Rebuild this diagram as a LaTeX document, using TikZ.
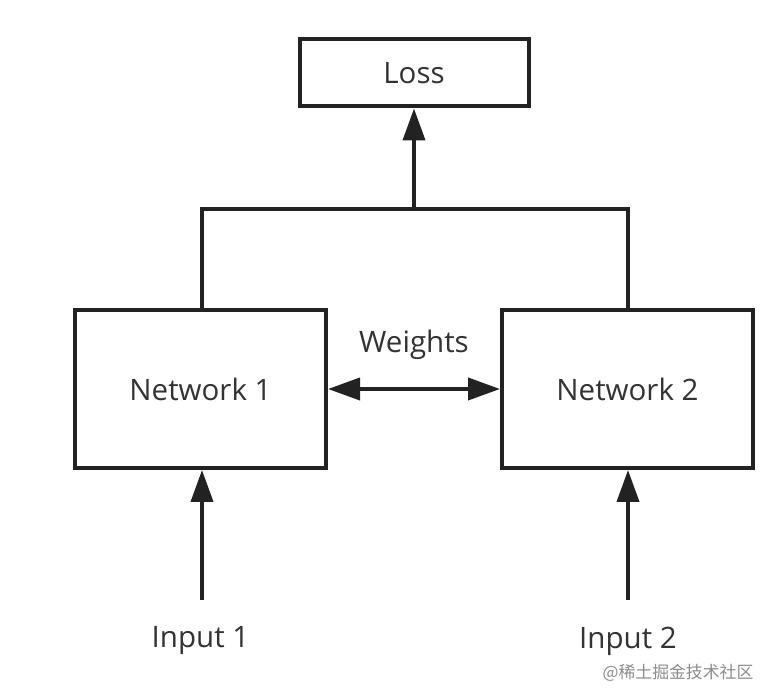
\documentclass[tikz,border=0pt]{standalone}
\usepackage{fontspec}
\setmainfont{Open Sans}
\newfontfamily\cjk{Noto Sans CJK SC}
\usepackage{tikz}
\usetikzlibrary{arrows.meta}
\usepackage{xcolor}
\definecolor{inkline}{HTML}{222222}
\definecolor{inktext}{HTML}{333333}

\begin{document}
\begin{tikzpicture}[
  box/.style={draw=inkline, line width=0.1cm, inner sep=0pt, text=inktext, font=\fontsize{21}{25}\selectfont},
  lbl/.style={inner sep=0pt, text=inktext, font=\fontsize{21}{25}\selectfont},
  arr/.style={draw=inkline, line width=0.1cm, -{Triangle[length=0.8cm, width=0.55cm]}},
  twoarr/.style={draw=inkline, line width=0.1cm, {Triangle[length=0.8cm, width=0.55cm]}-{Triangle[length=0.8cm, width=0.55cm]}},
  wire/.style={draw=inkline, line width=0.1cm}
]
\useasboundingbox[fill=white] (0,0) rectangle (19.55,17.325);

\node[box, minimum width=5.725cm, minimum height=1.675cm] (loss) at (10.35,15.5) {Loss};

\node[box, minimum width=6.275cm, minimum height=3.95cm] (net1) at (5.0125,7.6) {Network 1};
\node[box, minimum width=6.275cm, minimum height=3.95cm] (net2) at (15.6875,7.6) {Network 2};

\node[lbl] (weights) at (10.35,8.7) {Weights};

\node[lbl] (in1) at (5.0125,1.3) {Input 1};
\node[lbl] (in2) at (15.7,1.3) {Input 2};

\coordinate (join) at (10.35,12.1);
\coordinate (top1) at (5.05,12.1);
\coordinate (top2) at (15.7,12.1);
\coordinate (foot1) at (5.05,2.325);
\coordinate (foot2) at (15.7,2.325);

\draw[wire] (top1 |- net1.north) -- (top1) -- (top2) -- (top2 |- net2.north);
\draw[arr] (join) -- (loss.south);

\draw[twoarr] (net1.east) -- (net2.west);

\draw[arr] (foot1) -- (foot1 |- net1.south);
\draw[arr] (foot2) -- (foot2 |- net2.south);

\node[inner sep=0pt, text=black!45, font=\cjk\fontsize{12}{14}\selectfont] (mark) at (16.95,0.5) {@稀土掘金技术社区};
\end{tikzpicture}
\end{document}
